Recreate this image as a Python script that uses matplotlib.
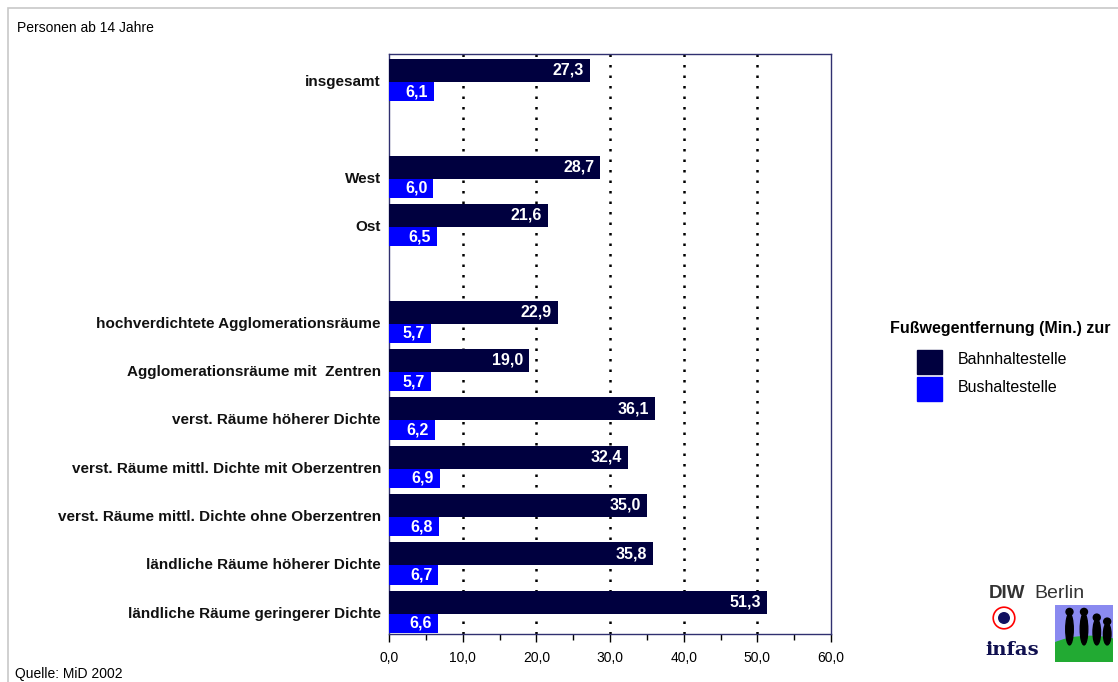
import numpy as np
import matplotlib.pyplot as plt
from matplotlib.patches import Rectangle, Ellipse, Circle
from matplotlib.ticker import MultipleLocator, FuncFormatter

plt.rcParams['font.family'] = ['Liberation Sans', 'DejaVu Sans']

categories = ['insgesamt', '', 'West', 'Ost', '',
              'hochverdichtete Agglomerationsräume',
              'Agglomerationsräume mit  Zentren',
              'verst. Räume höherer Dichte',
              'verst. Räume mittl. Dichte mit Oberzentren',
              'verst. Räume mittl. Dichte ohne Oberzentren',
              'ländliche Räume höherer Dichte',
              'ländliche Räume geringerer Dichte']
bahn = [27.3, np.nan, 28.7, 21.6, np.nan, 22.9, 19.0, 36.1, 32.4, 35.0, 35.8, 51.3]
bus = [6.1, np.nan, 6.0, 6.5, np.nan, 5.7, 5.7, 6.2, 6.9, 6.8, 6.7, 6.6]
series_names = ['Bahnhaltestelle', 'Bushaltestelle']
colors = ['#00003f', '#0000ff']
legend_title = 'Fußwegentfernung (Min.) zur'

fig = plt.figure(figsize=(11.18, 6.82), dpi=100)
# grey outer frame
fig.patches.append(Rectangle((8 / 1118, -0.01), 1.02, 1 - 8 / 682 + 0.01,
                             transform=fig.transFigure, fill=False,
                             edgecolor='#c8c8c8', lw=1.2))

ax = fig.add_axes([389 / 1118, 1 - 634 / 682, 442 / 1118, 580 / 682])
y = np.arange(len(categories))
h1, h2 = 0.48, 0.40
ax.barh(y - 0.4 + h1 / 2, bahn, height=h1, color=colors[0], zorder=3)
ax.barh(y + 0.08 + h2 / 2, bus, height=h2, color=colors[1], zorder=3)

def fmt(v):
    return f'{v:.1f}'.replace('.', ',')

for i in range(len(categories)):
    if not np.isnan(bahn[i]):
        ax.text(bahn[i] - 0.8, y[i] - 0.4 + h1 / 2, fmt(bahn[i]),
                ha='right', va='center', color='white', fontweight='bold',
                fontsize=11.5, zorder=4)
    if not np.isnan(bus[i]):
        ax.text(bus[i] - 0.8, y[i] + 0.08 + h2 / 2, fmt(bus[i]),
                ha='right', va='center', color='white', fontweight='bold',
                fontsize=11.5, zorder=4)
    if categories[i]:
        ax.text(-1.1, y[i] + 0.08, categories[i], ha='right', va='center',
                fontweight='bold', fontsize=11, color='#111111')

ax.set_xlim(0, 60)
ax.set_ylim(len(categories) - 0.5, -0.5)
ax.set_yticks([])
ax.xaxis.set_major_locator(MultipleLocator(10))
ax.xaxis.set_minor_locator(MultipleLocator(5))
ax.xaxis.set_major_formatter(FuncFormatter(lambda v, p: fmt(v)))
ax.tick_params(axis='x', which='major', length=6, width=1, labelsize=10, pad=6)
ax.tick_params(axis='x', which='minor', length=4, width=1)
for v in range(10, 60, 10):
    ax.axvline(v, color='black', lw=1.8, linestyle=(0, (1, 3.2)), zorder=2)
for s in ax.spines.values():
    s.set_color('#303070')
    s.set_linewidth(1)

fig.text(17 / 1118, 1 - 28 / 682, 'Personen ab 14 Jahre', fontsize=10, va='center')
fig.text(15 / 1118, 1 - 674 / 682, 'Quelle: MiD 2002', fontsize=10, va='center')

# legend
fig.text(1110 / 1118, 1 - 329 / 682, legend_title, ha='right', va='center',
         fontweight='bold', fontsize=11.5)
for k, name in enumerate(series_names):
    top = 350 + k * 27
    fig.patches.append(Rectangle((917 / 1118, 1 - (top + 24) / 682), 25 / 1118, 24 / 682,
                                 transform=fig.transFigure, color=colors[k]))
    fig.text(958 / 1118, 1 - (top + 10) / 682, name, fontsize=11.5, va='center')

# logo block
fig.text(989 / 1118, 1 - 594 / 682, 'DIW', fontsize=13.5, fontweight='heavy',
         color='#333333', va='center')
fig.text(1034 / 1118, 1 - 594 / 682, 'Berlin', fontsize=14, color='#333333', va='center')
fig.text(985 / 1118, 1 - 650 / 682, 'infas', fontsize=14, family='DejaVu Serif',
         fontweight='bold', color='#101050', va='center')
lax = fig.add_axes([1055 / 1118, 1 - 662 / 682, 58 / 1118, 57 / 682])
lax.set_xlim(0, 1)
lax.set_ylim(0, 1)
lax.axis('off')
lax.add_patch(Rectangle((0, 0), 1, 1, color='#8a8af0'))
lax.add_patch(Ellipse((0.6, 0.0), 1.8, 0.9, color='#22aa33'))
for fx, fh in [(0.25, 0.55), (0.5, 0.55), (0.72, 0.45), (0.9, 0.38)]:
    lax.add_patch(Ellipse((fx, 0.3 + fh / 2), 0.13, fh, color='black'))
    lax.add_patch(Circle((fx, 0.33 + fh), 0.06, color='black'))
cax = fig.add_axes([992 / 1118, 1 - 632 / 682, 24 / 1118, 28 / 682])
cax.set_xlim(0, 1)
cax.set_ylim(0, 1)
cax.set_aspect('equal')
cax.axis('off')
cax.add_patch(Circle((0.5, 0.5), 0.45, fill=False, edgecolor='red', lw=1.2))
cax.add_patch(Circle((0.5, 0.5), 0.22, color='#101060'))

fig.savefig('out.png', dpi=100)
